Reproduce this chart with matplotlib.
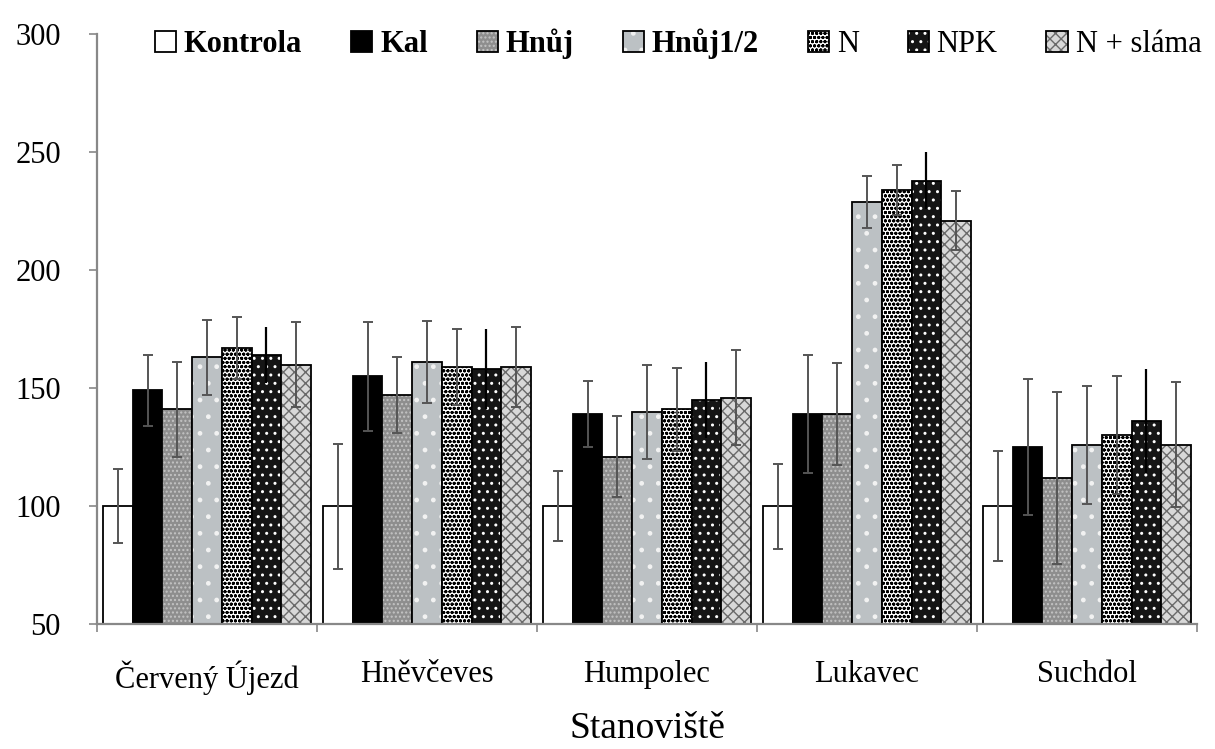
import numpy as np
import matplotlib
matplotlib.use("Agg")
import matplotlib.pyplot as plt

plt.rcParams["font.family"] = ["Liberation Serif", "DejaVu Serif"]
plt.rcParams["hatch.linewidth"] = 1.0

sites = ["Červený Újezd", "Hněvčeves", "Humpolec", "Lukavec", "Suchdol"]
treatments = ["Kontrola", "Kal", "Hnůj", "Hnůj1/2", "N", "NPK", "N + sláma"]

# mean values per treatment, one entry per site
kontrola = [100, 100, 100, 100, 100]
kal = [149, 155, 139, 139, 125]
hnuj = [141, 147, 121, 139, 112]
hnuj_half = [163, 161, 140, 229, 126]
n_only = [167, 159, 141, 234, 130]
npk = [164, 158, 145, 238, 136]
n_slama = [160, 159, 146, 221, 126]

# error bars (+/-)
kontrola_err = [15.5, 26.5, 15, 18, 23.5]
kal_err = [15, 23, 14, 25, 29]
hnuj_err = [20, 16, 17, 21.5, 36.5]
hnuj_half_err = [16, 17.5, 20, 11, 25]
n_only_err = [13, 16, 17.5, 10.5, 25]
npk_err = [12, 17, 16, 12, 22]
n_slama_err = [18, 17, 20, 12.5, 26.5]

values = [kontrola, kal, hnuj, hnuj_half, n_only, npk, n_slama]
errors = [kontrola_err, kal_err, hnuj_err, hnuj_half_err, n_only_err, npk_err, n_slama_err]

# face colour, hatch, hatch colour
styles = [
    ("white", "", "black"),
    ("black", "", "black"),
    ("#8e8e8e", "....", "#c4c4c4"),
    ("#bcc1c4", ".", "#f2f2f2"),
    ("white", "oooo", "black"),
    ("#151515", "..", "white"),
    ("#d8d8d8", "xxx", "#6a6a6a"),
]

y0 = 50
width = 0.135
x = np.arange(len(sites))

fig = plt.figure(figsize=(12.15, 7.49), dpi=100)
ax = fig.add_axes([0.0798, 0.1669, 0.9054, 0.7873])

handles = []
for j, (vals, errs) in enumerate(zip(values, errors)):
    face, hatch, hcol = styles[j]
    xs = x + (j - 3) * width
    h = np.array(vals) - y0
    b1 = ax.bar(xs, h, width, bottom=y0, color=face, edgecolor=hcol, hatch=hatch, linewidth=0)
    b2 = ax.bar(xs, h, width, bottom=y0, fill=False, edgecolor="black", linewidth=1.3)
    if treatments[j] == "NPK":
        ax.errorbar(xs, vals, yerr=errs, fmt="none", ecolor="black", elinewidth=1.6, capsize=0)
    else:
        ax.errorbar(xs, vals, yerr=errs, fmt="none", ecolor="#555555", elinewidth=1.4,
                    capsize=3.6, capthick=1.4)
    handles.append((b1[0], b2[0]))

ax.set_xlim(-0.5, len(sites) - 0.5)
ax.set_ylim(50, 300)
ax.set_yticks([50, 100, 150, 200, 250, 300])
ax.set_xticks(x)
ax.set_xticklabels(sites)
ax.set_xticks(np.arange(-0.5, len(sites)), minor=True)
ax.tick_params(axis="x", which="major", length=0, pad=26, labelsize=22)
ax.tick_params(axis="x", which="minor", length=6, width=1.2, color="#888888", direction="out")
ax.tick_params(axis="y", length=6, width=1.2, color="#888888", pad=20, labelsize=22)

for side in ["top", "right"]:
    ax.spines[side].set_visible(False)
for side in ["left", "bottom"]:
    ax.spines[side].set_color("#888888")
    ax.spines[side].set_linewidth(1.6)

ax.set_xlabel("Stanoviště", fontsize=27, labelpad=12)

leg = fig.legend(handles, treatments, ncol=7, loc="center",
                 bbox_to_anchor=(678 / 1215, 1 - 44 / 749), frameon=False,
                 fontsize=22, handlelength=0.7, handleheight=0.7,
                 handletextpad=0.25, columnspacing=1.6, borderaxespad=0)
for i, t in enumerate(leg.get_texts()):
    if i < 4:
        t.set_fontweight("bold")

fig.savefig("out.png", dpi=100)
